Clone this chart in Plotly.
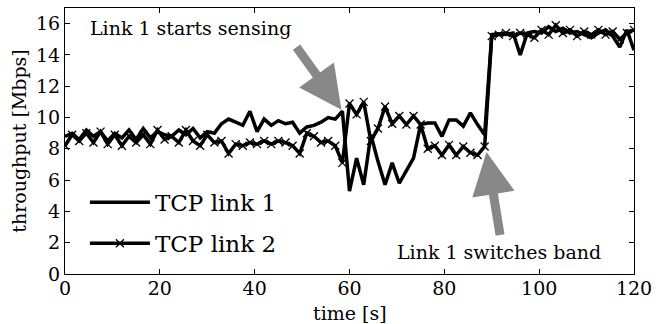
import numpy as np
import plotly.graph_objects as go

# Sample times [s] (one sample every 1.5 s)
time_s = [round(1.5 * i, 1) for i in range(81)]

# Throughput of TCP link 1 [Mbps]
tcp_link1 = [
    8.8, 9.0, 8.6, 9.2, 8.8, 9.1, 8.5, 9.0, 8.7, 9.2,
    8.6, 9.3, 8.7, 9.1, 8.9, 8.8, 9.2, 8.9, 9.3, 8.7,
    9.1, 9.0, 9.6, 9.9, 9.7, 9.5, 10.4, 9.1, 9.9, 9.5,
    9.8, 9.6, 9.7, 9.0, 9.4, 9.5, 9.7, 10.0, 9.9, 10.4,
    5.3, 7.4, 5.7, 8.9, 7.2, 5.7, 7.1, 5.8, 6.6, 7.4,
    9.55, 9.65, 9.65, 8.8, 9.85, 9.85, 9.45, 10.3, 9.55, 8.9,
    15.3, 15.35, 15.3, 15.4, 14.0, 15.4, 15.5, 15.4, 15.8, 15.5,
    15.7, 15.4, 15.5, 15.3, 15.1, 15.4, 15.6, 15.2, 14.5, 15.6,
    14.3,
]

# Throughput of TCP link 2 [Mbps]
tcp_link2 = [
    8.2, 8.9, 8.5, 9.0, 8.4, 9.1, 8.3, 8.9, 8.2, 8.8,
    8.4, 8.9, 8.3, 9.2, 8.6, 8.8, 8.4, 9.2, 8.5, 8.2,
    8.9, 8.4, 8.5, 7.7, 8.3, 8.2, 8.4, 8.3, 8.5, 8.3,
    8.5, 8.4, 8.2, 7.7, 9.0, 8.8, 8.4, 8.5, 8.2, 7.1,
    10.9, 10.2, 11.0, 8.5, 9.3, 10.7, 9.6, 10.1, 9.55, 10.1,
    9.55, 8.0, 8.2, 7.6, 8.25, 7.6, 8.15, 7.75, 7.6, 8.15,
    15.2, 15.3, 15.4, 15.2, 15.4, 15.3, 15.1, 15.6, 15.3, 15.9,
    15.4, 15.6, 15.2, 15.5, 15.3, 15.6, 15.3, 15.5, 15.0, 15.4,
    15.6,
]

FONT = "DejaVu Serif"

fig = go.Figure()
fig.add_trace(go.Scatter(
    x=time_s, y=tcp_link1, mode="lines", name="TCP link 1",
    line=dict(color="black", width=3.5), legendgroup="a",
))
fig.add_trace(go.Scatter(
    x=time_s, y=tcp_link2, mode="lines+markers", name="TCP link 2",
    line=dict(color="black", width=3.5),
    marker=dict(symbol="x-thin", size=8, line=dict(color="black", width=1.3)),
    legendgroup="b",
))

arrow = dict(showarrow=True, arrowcolor="#888888", arrowwidth=9,
             arrowhead=2, arrowsize=0.95, standoff=0,
             axref="x", ayref="y", xref="x", yref="y", text="")
fig.add_annotation(x=58.3, y=10.5, ax=48.6, ay=14.6, **arrow)
fig.add_annotation(x=88.9, y=7.8, ax=91.8, ay=2.4, **arrow)

fig.add_annotation(x=4.8, y=15.7, xref="x", yref="y", text="Link 1 starts sensing",
                   showarrow=False, xanchor="left", yanchor="middle",
                   font=dict(family=FONT, size=19, color="black"))
fig.add_annotation(x=69.7, y=1.4, xref="x", yref="y", text="Link 1 switches band",
                   showarrow=False, xanchor="left", yanchor="middle",
                   font=dict(family=FONT, size=19, color="black"))

# x-axis title, set close under the tick labels
fig.add_annotation(x=0.5, y=-0.148, xref="paper", yref="paper", text="time [s]",
                   showarrow=False, xanchor="center", yanchor="middle",
                   font=dict(family=FONT, size=19, color="black"))

axis_common = dict(showline=True, linecolor="black", linewidth=1, mirror="ticks",
                   ticks="inside", ticklen=5, tickcolor="black", showgrid=False,
                   zeroline=False, tickfont=dict(family=FONT, size=19, color="black"))

fig.update_xaxes(range=[0, 120], tickvals=[0, 20, 40, 60, 80, 100, 120], ticklabelstandoff=-3,
                 **axis_common)
fig.update_yaxes(range=[0, 17], tickvals=[0, 2, 4, 6, 8, 10, 12, 14, 16],
                 title=dict(text="throughput [Mbps]", font=dict(family=FONT, size=19, color="black"),
                            standoff=4),
                 **axis_common)

fig.update_layout(
    width=659, height=324,
    margin=dict(l=65, r=20, t=7, b=50),
    plot_bgcolor="white", paper_bgcolor="white",
    legend=dict(x=0.035, y=0.35, xanchor="left", yanchor="top",
                font=dict(family=FONT, size=23, color="black"),
                bgcolor="rgba(0,0,0,0)", tracegroupgap=8, itemwidth=60),
    showlegend=True,
)

fig.write_html("out.html")
